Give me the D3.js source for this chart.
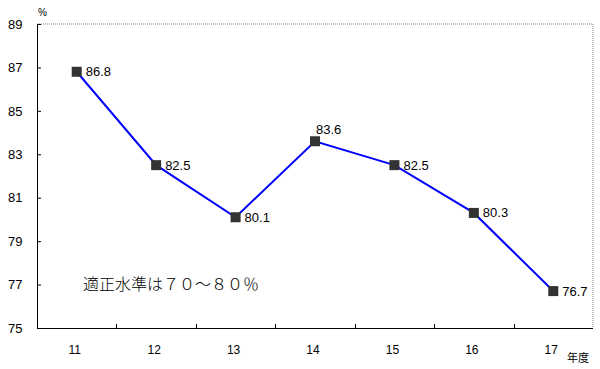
<!DOCTYPE html>
<html><head><meta charset="utf-8">
<script src="https://cdn.jsdelivr.net/npm/d3@7"></script>
<style>body{margin:0;background:#fff}svg{display:block}</style>
</head><body>
<svg id="c" width="600" height="369"></svg>
<script>
const categories = ["11","12","13","14","15","16","17"];
const values = [86.8, 82.5, 80.1, 83.6, 82.5, 80.3, 76.7];
const yTicks = [75, 77, 79, 81, 83, 85, 87, 89];
const labelAbove = [false, false, false, true, false, false, false];

const svg = d3.select("#c");
const L = 37, R = 593, T = 24, B = 328;
const font = "Arial, 'Liberation Sans', sans-serif";
const x = d3.scaleBand().domain(categories).range([L, R]);
const y = d3.scaleLinear().domain([75, 89]).range([B, T]);

// top & right dotted border
svg.append("path").attr("d", `M${L},${T}H${R}V${B}`)
  .attr("fill","none").attr("stroke","#808080").attr("stroke-width",1).attr("stroke-dasharray","1,1");

// y axis
const ya = svg.append("g").attr("transform", `translate(${L},0)`)
  .call(d3.axisRight(y).tickValues(yTicks).tickSize(4).tickFormat(d3.format("d")));
ya.select(".domain").attr("d", `M0.5,${T}V${B}`).attr("stroke","#000");
ya.selectAll(".tick line").attr("stroke","#000");
ya.selectAll(".tick text").attr("x", -29).attr("text-anchor","start")
  .attr("font-family", font).attr("font-size", 13).attr("fill","#000");

// x axis
const xa = svg.append("g").attr("transform", `translate(0,${B})`)
  .call(d3.axisBottom(x).tickSize(0).tickPadding(17));
xa.select(".domain").attr("d", `M${L},0.5H${R}`).attr("stroke","#000");
xa.selectAll(".tick text").attr("font-family", font).attr("font-size", 12).attr("fill","#000")
  .attr("dx", -2);
// inner tick marks between categories
xa.selectAll(".sep").data(categories.slice(1)).enter().append("line")
  .attr("x1", d => Math.round(x(d)) + 0.5).attr("x2", d => Math.round(x(d)) + 0.5)
  .attr("y1", 0).attr("y2", -4).attr("stroke","#000");

const cx = d => x(d) + x.bandwidth()/2;
const data = categories.map((c,i) => ({c, v: values[i], above: labelAbove[i]}));

svg.append("path").datum(data)
  .attr("d", d3.line().x(d => cx(d.c)).y(d => y(d.v)))
  .attr("fill","none").attr("stroke","#0000ff").attr("stroke-width",2);

svg.selectAll(".m").data(data).enter().append("rect")
  .attr("x", d => cx(d.c) - 5).attr("y", d => y(d.v) - 5)
  .attr("width", 10).attr("height", 10).attr("fill","#333");

svg.selectAll(".lbl").data(data).enter().append("text")
  .attr("x", d => d.above ? cx(d.c) + 1 : cx(d.c) + 9)
  .attr("y", d => d.above ? y(d.v) - 12 : y(d.v))
  .attr("dy", "0.35em")
  .attr("font-family", font).attr("font-size", 13).attr("fill","#000")
  .text(d => d.v.toFixed(1));

svg.append("text").attr("x", 38).attr("y", 16).attr("font-family", font)
  .attr("font-size", 10).text("%");
svg.append("text").attr("x", 567).attr("y", 362).attr("font-family", "'Noto Sans CJK JP', sans-serif")
  .attr("font-size", 11).text("年度");
svg.append("text").attr("x", 83).attr("y", 290).attr("font-family", "'Noto Sans CJK JP', sans-serif")
  .attr("font-size", 16).attr("font-weight", 300).text("適正水準は７０～８０％");
</script>
</body></html>
